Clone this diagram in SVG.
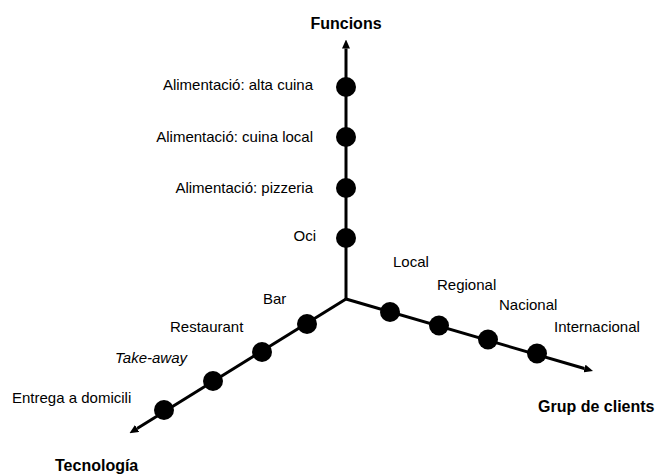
<svg xmlns="http://www.w3.org/2000/svg" width="658" height="474" viewBox="0 0 658 474">
<style>
text{font-family:"Liberation Sans",Arial,sans-serif;font-size:15px;fill:#000}
.t{font-size:16px;font-weight:bold}
.ax{stroke:#000;stroke-width:3;fill:none}
.dot{fill:#000}
</style>
<defs>
<marker id="arr" viewBox="0 0 9 8" refX="0" refY="4" markerWidth="9" markerHeight="8" markerUnits="userSpaceOnUse" orient="auto">
<path d="M0,0 L9,4 L0,8 z" fill="#000"/>
</marker>
</defs>
<rect width="658" height="474" fill="#fff"/>
<g id="connectors">
<line class="ax" x1="346" y1="299" x2="346" y2="48.5" marker-end="url(#arr)"/>
<line class="ax" x1="346" y1="299" x2="584.4" y2="368.5" marker-end="url(#arr)"/>
<line class="ax" x1="346" y1="299" x2="137.1" y2="428.5" marker-end="url(#arr)"/>
</g>
<g id="axis-funcions"><text class="t" x="346" y="29" text-anchor="middle">Funcions</text></g>
<g id="axis-clients"><text class="t" x="538" y="412">Grup de clients</text></g>
<g id="axis-tecnologia"><text class="t" x="55" y="471">Tecnología</text></g>
<g id="f1"><circle class="dot" cx="346" cy="87" r="10"/><text x="313" y="90" text-anchor="end">Alimentació: alta cuina</text></g>
<g id="f2"><circle class="dot" cx="346" cy="137" r="10"/><text x="313" y="142" text-anchor="end">Alimentació: cuina local</text></g>
<g id="f3"><circle class="dot" cx="346" cy="188" r="10"/><text x="313" y="193" text-anchor="end">Alimentació: pizzeria</text></g>
<g id="f4"><circle class="dot" cx="346" cy="238" r="10"/><text x="316" y="241" text-anchor="end">Oci</text></g>
<g id="c1"><circle class="dot" cx="390" cy="312" r="10"/><text x="393" y="267">Local</text></g>
<g id="c2"><circle class="dot" cx="439" cy="325.5" r="10"/><text x="437" y="290">Regional</text></g>
<g id="c3"><circle class="dot" cx="488" cy="339.5" r="10"/><text x="499" y="310">Nacional</text></g>
<g id="c4"><circle class="dot" cx="537" cy="353.5" r="10"/><text x="554" y="332">Internacional</text></g>
<g id="t1"><circle class="dot" cx="307" cy="324" r="10"/><text x="263" y="304">Bar</text></g>
<g id="t2"><circle class="dot" cx="262" cy="352" r="10"/><text x="170" y="332">Restaurant</text></g>
<g id="t3"><circle class="dot" cx="213" cy="381" r="10"/><text x="115" y="363" font-style="italic">Take-away</text></g>
<g id="t4"><circle class="dot" cx="164" cy="410" r="10"/><text x="12" y="402.5">Entrega a domicili</text></g>
</svg>
